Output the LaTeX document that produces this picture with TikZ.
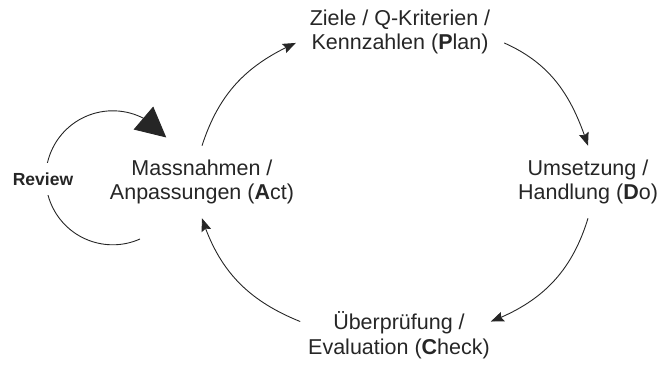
\documentclass[tikz,border=0pt]{standalone}
\usepackage{fontspec}
\setmainfont{Liberation Sans}
\usetikzlibrary{arrows.meta,bending}

\tikzset{
  phase/.style={align=center,inner sep=0pt,outer sep=14pt,text=black!85,
    font=\fontsize{21.5}{24.5}\selectfont},
  flow/.style={line width=0.9pt,black!85,
    -{Stealth[length=13pt,width=10pt,inset=2pt]}},
  loopflow/.style={line width=0.9pt,black!85,
    -{Triangle[length=30pt,width=30pt,flex=1]}},
  looplabel/.style={fill=white,inner xsep=2pt,inner ysep=10pt,text=black!85,
    font=\fontsize{17.5}{20}\selectfont\bfseries}
}

\begin{document}
\begin{tikzpicture}[x=1pt,y=1pt]
  \useasboundingbox (0,0) rectangle (665,365);
  % the four phases
  \node[phase] (plan)  at (400,333) {Ziele / Q-Kriterien /\\Kennzahlen ({\bfseries P}lan)};
  \node[phase] (do)    at (588,183) {Umsetzung /\\Handlung ({\bfseries D}o)};
  \node[phase] (check) at (399,30)  {Überprüfung /\\Evaluation ({\bfseries C}heck)};
  \node[phase] (act)   at (202,183) {Massnahmen /\\Anpassungen ({\bfseries A}ct)};
  % cycle
  \draw[flow] (act.north) to[out=72,in=204] (plan.186);
  \draw[flow] (plan.354) to[out=-24,in=108] (do.north);
  \draw[flow] (do.south) to[out=253,in=21] ([shift={(-13pt,-24pt)}]check.north east);
  \draw[flow] ([shift={(6pt,-24pt)}]check.north west) to[out=158,in=288] (act.south);
  % review loop
  \draw[loopflow] ([shift={(-62pt,-57pt)}]act.center) arc[start angle=-66,end angle=-323,radius=67];
  \node[looplabel] (review) at (43,186) {Review};
\end{tikzpicture}
\end{document}
